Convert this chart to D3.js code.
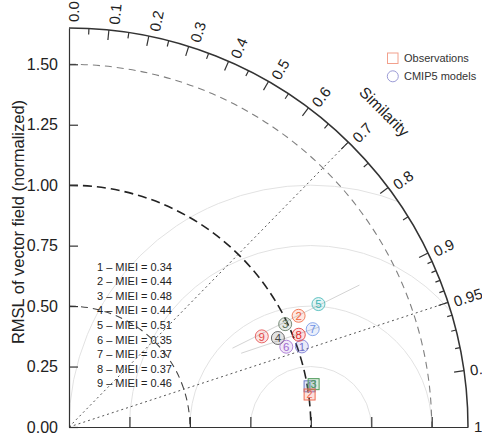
<!DOCTYPE html>
<html>
<head>
<meta charset="utf-8">
<title>Taylor diagram</title>
<script src="https://d3js.org/d3.v7.min.js"></script>
<style>
  body { margin: 0; background: #fff; }
  svg { font-family: "Liberation Sans", Arial, Helvetica, sans-serif; }
</style>
</head>
<body>
<script>

// model points (normalized RMSL, similarity)
var modelIds   = ["1", "2", "3", "4", "5", "6", "7", "8", "9"];
var modelSd    = [1.019, 1.055, 0.990, 0.939, 1.150, 0.958, 1.086, 1.024, 0.881];
var modelCorr  = [0.945, 0.900, 0.903, 0.920, 0.897, 0.938, 0.928, 0.928, 0.905];
var mieiValues = [0.34, 0.44, 0.48, 0.44, 0.51, 0.35, 0.37, 0.37, 0.46];

// observation squares
var obsIds  = ["1", "3", "2"];
var obsSd   = [1.009, 1.027, 1.004];
var obsCorr = [0.986, 0.985, 0.991];

// faint lines behind the points, in normalized x/y
var trendX0 = [0.676, 0.712];
var trendY0 = [0.326, 0.305];
var trendX1 = [1.201, 1.036];
var trendY1 = [0.587, 0.414];

var sdTicks    = [0, 0.25, 0.5, 0.75, 1.0, 1.25, 1.5];
var xTicks     = [0.25, 0.5, 0.75, 1.0, 1.25, 1.5];
var corrLabels = [0, 0.1, 0.2, 0.3, 0.4, 0.5, 0.6, 0.7, 0.8, 0.9, 0.95, 0.99, 1.0];
var corrMajor  = [0.1, 0.2, 0.3, 0.4, 0.5, 0.6, 0.7, 0.8, 0.9, 0.95, 0.99];
var corrMed    = [0.05, 0.15, 0.25, 0.35, 0.45, 0.55, 0.65, 0.75, 0.85];
var corrMinor  = [0.91, 0.92, 0.93, 0.94, 0.96, 0.97, 0.98];
var corrRays   = [0.7, 0.95];
var sdArcs     = [0.5, 1.0, 1.5];
var rmsCircles = [0.25, 0.5, 0.75, 1.0];
var maxSd = 1.65;

var modelColors = ["#7474d2", "#f0643c", "#5b735b", "#4a4a4a", "#3fb5b5",
                   "#a06ad0", "#6f93e6", "#e52c2c", "#e44848"];
var obsColors = ["#6a78c8", "#4f9a5a", "#f06a50"];

var width = 482, height = 434;
var ox = 69, oy = 427, R = 399;

var x = d3.scaleLinear().domain([0, maxSd]).range([ox, ox + R]);
var y = d3.scaleLinear().domain([0, maxSd]).range([oy, oy - R]);
var rad = d3.scaleLinear().domain([0, maxSd]).range([0, R]);

function px(sd, c) { return x(sd * c); }
function py(sd, c) { return y(sd * Math.sqrt(1 - c * c)); }

var svg = d3.select("body").append("svg")
    .attr("width", width)
    .attr("height", height);

svg.append("clipPath").attr("id", "quad")
  .append("path")
    .attr("d", function() {
      var p = d3.path();
      p.moveTo(ox, oy);
      p.lineTo(ox, oy - R);
      p.arc(ox, oy, R, -Math.PI / 2, 0);
      p.closePath();
      return p.toString();
    });

// centred RMS difference circles around the reference point
svg.append("g").attr("clip-path", "url(#quad)")
  .selectAll("path")
  .data(rmsCircles)
  .enter().append("path")
    .attr("d", function(d) {
      var p = d3.path(), cx = x(1), rr = rad(d);
      p.moveTo(cx - rr, oy);
      p.arc(cx, oy, rr, Math.PI, 2 * Math.PI);
      return p.toString();
    })
    .attr("fill", "none")
    .attr("stroke", "#e2e2e2")
    .attr("stroke-width", 1);

// rays for similarity 0.7 and 0.95
svg.append("g").selectAll("line")
  .data(corrRays)
  .enter().append("line")
    .attr("x1", x(0)).attr("y1", y(0))
    .attr("x2", function(d) { return px(maxSd, d); })
    .attr("y2", function(d) { return py(maxSd, d); })
    .attr("stroke", "#555")
    .attr("stroke-width", 1)
    .attr("stroke-dasharray", "2,3");

// sd arcs
svg.append("g").selectAll("path")
  .data(sdArcs)
  .enter().append("path")
    .attr("d", function(d) {
      var p = d3.path(), rr = rad(d);
      p.moveTo(ox, oy - rr);
      p.arc(ox, oy, rr, -Math.PI / 2, 0);
      return p.toString();
    })
    .attr("fill", "none")
    .attr("stroke", function(d) { return d === 1 ? "#222" : (d === 0.5 ? "#444" : "#808080"); })
    .attr("stroke-width", function(d) { return d === 1 ? 1.6 : 1.1; })
    .attr("stroke-dasharray", function(d) { return d === 1 ? "9,5" : "7,5"; });

// faint lines
svg.append("g").selectAll("line")
  .data(trendX0)
  .enter().append("line")
    .attr("x1", function(d) { return x(d); })
    .attr("y1", function(d, i) { return y(trendY0[i]); })
    .attr("x2", function(d, i) { return x(trendX1[i]); })
    .attr("y2", function(d, i) { return y(trendY1[i]); })
    .attr("stroke", "#d4d4d4")
    .attr("stroke-width", 1);

// axes
var yAxis = d3.axisLeft(y)
    .tickValues(sdTicks)
    .tickSizeInner(-9)
    .tickSizeOuter(0)
    .tickPadding(11)
    .tickFormat(d3.format(".2f"));

var gy = svg.append("g")
    .attr("transform", "translate(" + ox + ",0)")
    .call(yAxis);
gy.selectAll("text").attr("font-size", 16).attr("fill", "#222").attr("font-family", null);

var xAxis = d3.axisTop(x)
    .tickValues(xTicks)
    .tickSize(10)
    .tickSizeOuter(0)
    .tickFormat("");

svg.append("g")
    .attr("transform", "translate(0," + oy + ")")
    .call(xAxis);

svg.selectAll(".domain, .tick line").attr("stroke", "#333").attr("stroke-width", 1.2);

// outer similarity arc
svg.append("path")
    .attr("d", function() {
      var p = d3.path();
      p.moveTo(ox, oy - R);
      p.arc(ox, oy, R, -Math.PI / 2, 0);
      return p.toString();
    })
    .attr("fill", "none")
    .attr("stroke", "#333")
    .attr("stroke-width", 1.5);

function arcTicks(vals, len) {
  svg.append("g").selectAll("line")
    .data(vals)
    .enter().append("line")
      .attr("x1", function(d) { return px(maxSd, d); })
      .attr("y1", function(d) { return py(maxSd, d); })
      .attr("x2", function(d) { return ox + (R - len) * d; })
      .attr("y2", function(d) { return oy - (R - len) * Math.sqrt(1 - d * d); })
      .attr("stroke", "#333")
      .attr("stroke-width", 1.2);
}
arcTicks(corrMajor, 10);
arcTicks(corrMed, 6);
arcTicks(corrMinor, 5);

svg.append("g").selectAll("text")
  .data(corrLabels)
  .enter().append("text")
    .attr("transform", function(d) {
      var a = Math.acos(d), rr = R + 6;
      return "translate(" + (ox + rr * Math.cos(a)) + "," + (oy - rr * Math.sin(a)) + ")" +
             "rotate(" + (-a * 180 / Math.PI) + ")";
    })
    .attr("dy", function(d) { return (0.35 + 0.32 * Math.sqrt(1 - d * d)) + "em"; })
    .attr("font-size", 15)
    .attr("fill", "#222")
    .text(function(d) { return d === 0.95 || d === 0.99 ? String(d) : d.toFixed(1); });

var simAngle = Math.PI / 4, simR = R * 1.118;
svg.append("text")
    .attr("transform", "translate(" + (ox + simR * Math.cos(simAngle)) + "," + (oy - simR * Math.sin(simAngle)) + ")rotate(45)")
    .attr("text-anchor", "middle")
    .attr("dy", "0.35em")
    .attr("font-size", 15.5)
    .attr("fill", "#222")
    .text("Similarity");

svg.append("text")
    .attr("transform", "translate(24,222)rotate(-90)")
    .attr("text-anchor", "middle")
    .attr("font-size", 16.5)
    .attr("fill", "#222")
    .text("RMSL of vector field (normalized)");

// MIEI list
svg.append("g").selectAll("text")
  .data(mieiValues)
  .enter().append("text")
    .attr("x", 97)
    .attr("y", function(d, i) { return 270.5 + i * 14.6; })
    .attr("font-size", 11)
    .attr("fill", "#222")
    .text(function(d, i) { return modelIds[i] + " \u2013 MIEI = " + d.toFixed(2); });

// observations
var obs = svg.append("g").selectAll("g")
  .data(obsIds)
  .enter().append("g")
    .attr("transform", function(d, i) {
      return "translate(" + px(obsSd[i], obsCorr[i]) + "," + py(obsSd[i], obsCorr[i]) + ")";
    });
obs.append("rect")
    .attr("x", -5.5).attr("y", -5.5)
    .attr("width", 11).attr("height", 11)
    .attr("fill", function(d, i) { return obsColors[i]; })
    .attr("fill-opacity", 0.2)
    .attr("stroke", function(d, i) { return obsColors[i]; })
    .attr("stroke-width", 1);
obs.append("text")
    .attr("text-anchor", "middle")
    .attr("dy", "0.36em")
    .attr("font-size", 11)
    .attr("fill", function(d, i) { return obsColors[i]; })
    .text(function(d) { return d; });

// models
var mod = svg.append("g").selectAll("g")
  .data(modelIds)
  .enter().append("g")
    .attr("transform", function(d, i) {
      return "translate(" + px(modelSd[i], modelCorr[i]) + "," + py(modelSd[i], modelCorr[i]) + ")";
    });
mod.append("circle")
    .attr("r", 6.5)
    .attr("fill", function(d, i) { return modelColors[i]; })
    .attr("fill-opacity", 0.15)
    .attr("stroke", function(d, i) { return modelColors[i]; })
    .attr("stroke-opacity", 0.8)
    .attr("stroke-width", 1);
mod.append("text")
    .attr("text-anchor", "middle")
    .attr("dy", "0.36em")
    .attr("font-size", 11.5)
    .attr("fill", function(d, i) { return modelColors[i]; })
    .text(function(d) { return d; });

// legend
svg.append("rect")
    .attr("x", 387.5).attr("y", 53)
    .attr("width", 10.5).attr("height", 10.5)
    .attr("fill", "none")
    .attr("stroke", "#f2a08c")
    .attr("stroke-width", 1);
svg.append("circle")
    .attr("cx", 392.8).attr("cy", 76.3)
    .attr("r", 5.5)
    .attr("fill", "none")
    .attr("stroke", "#9b9bd6")
    .attr("stroke-width", 1);
svg.append("text")
    .attr("x", 404).attr("y", 62)
    .attr("font-size", 11)
    .attr("fill", "#333")
    .text("Observations");
svg.append("text")
    .attr("x", 404).attr("y", 80)
    .attr("font-size", 11)
    .attr("fill", "#333")
    .text("CMIP5 models");

</script>
</body>
</html>
